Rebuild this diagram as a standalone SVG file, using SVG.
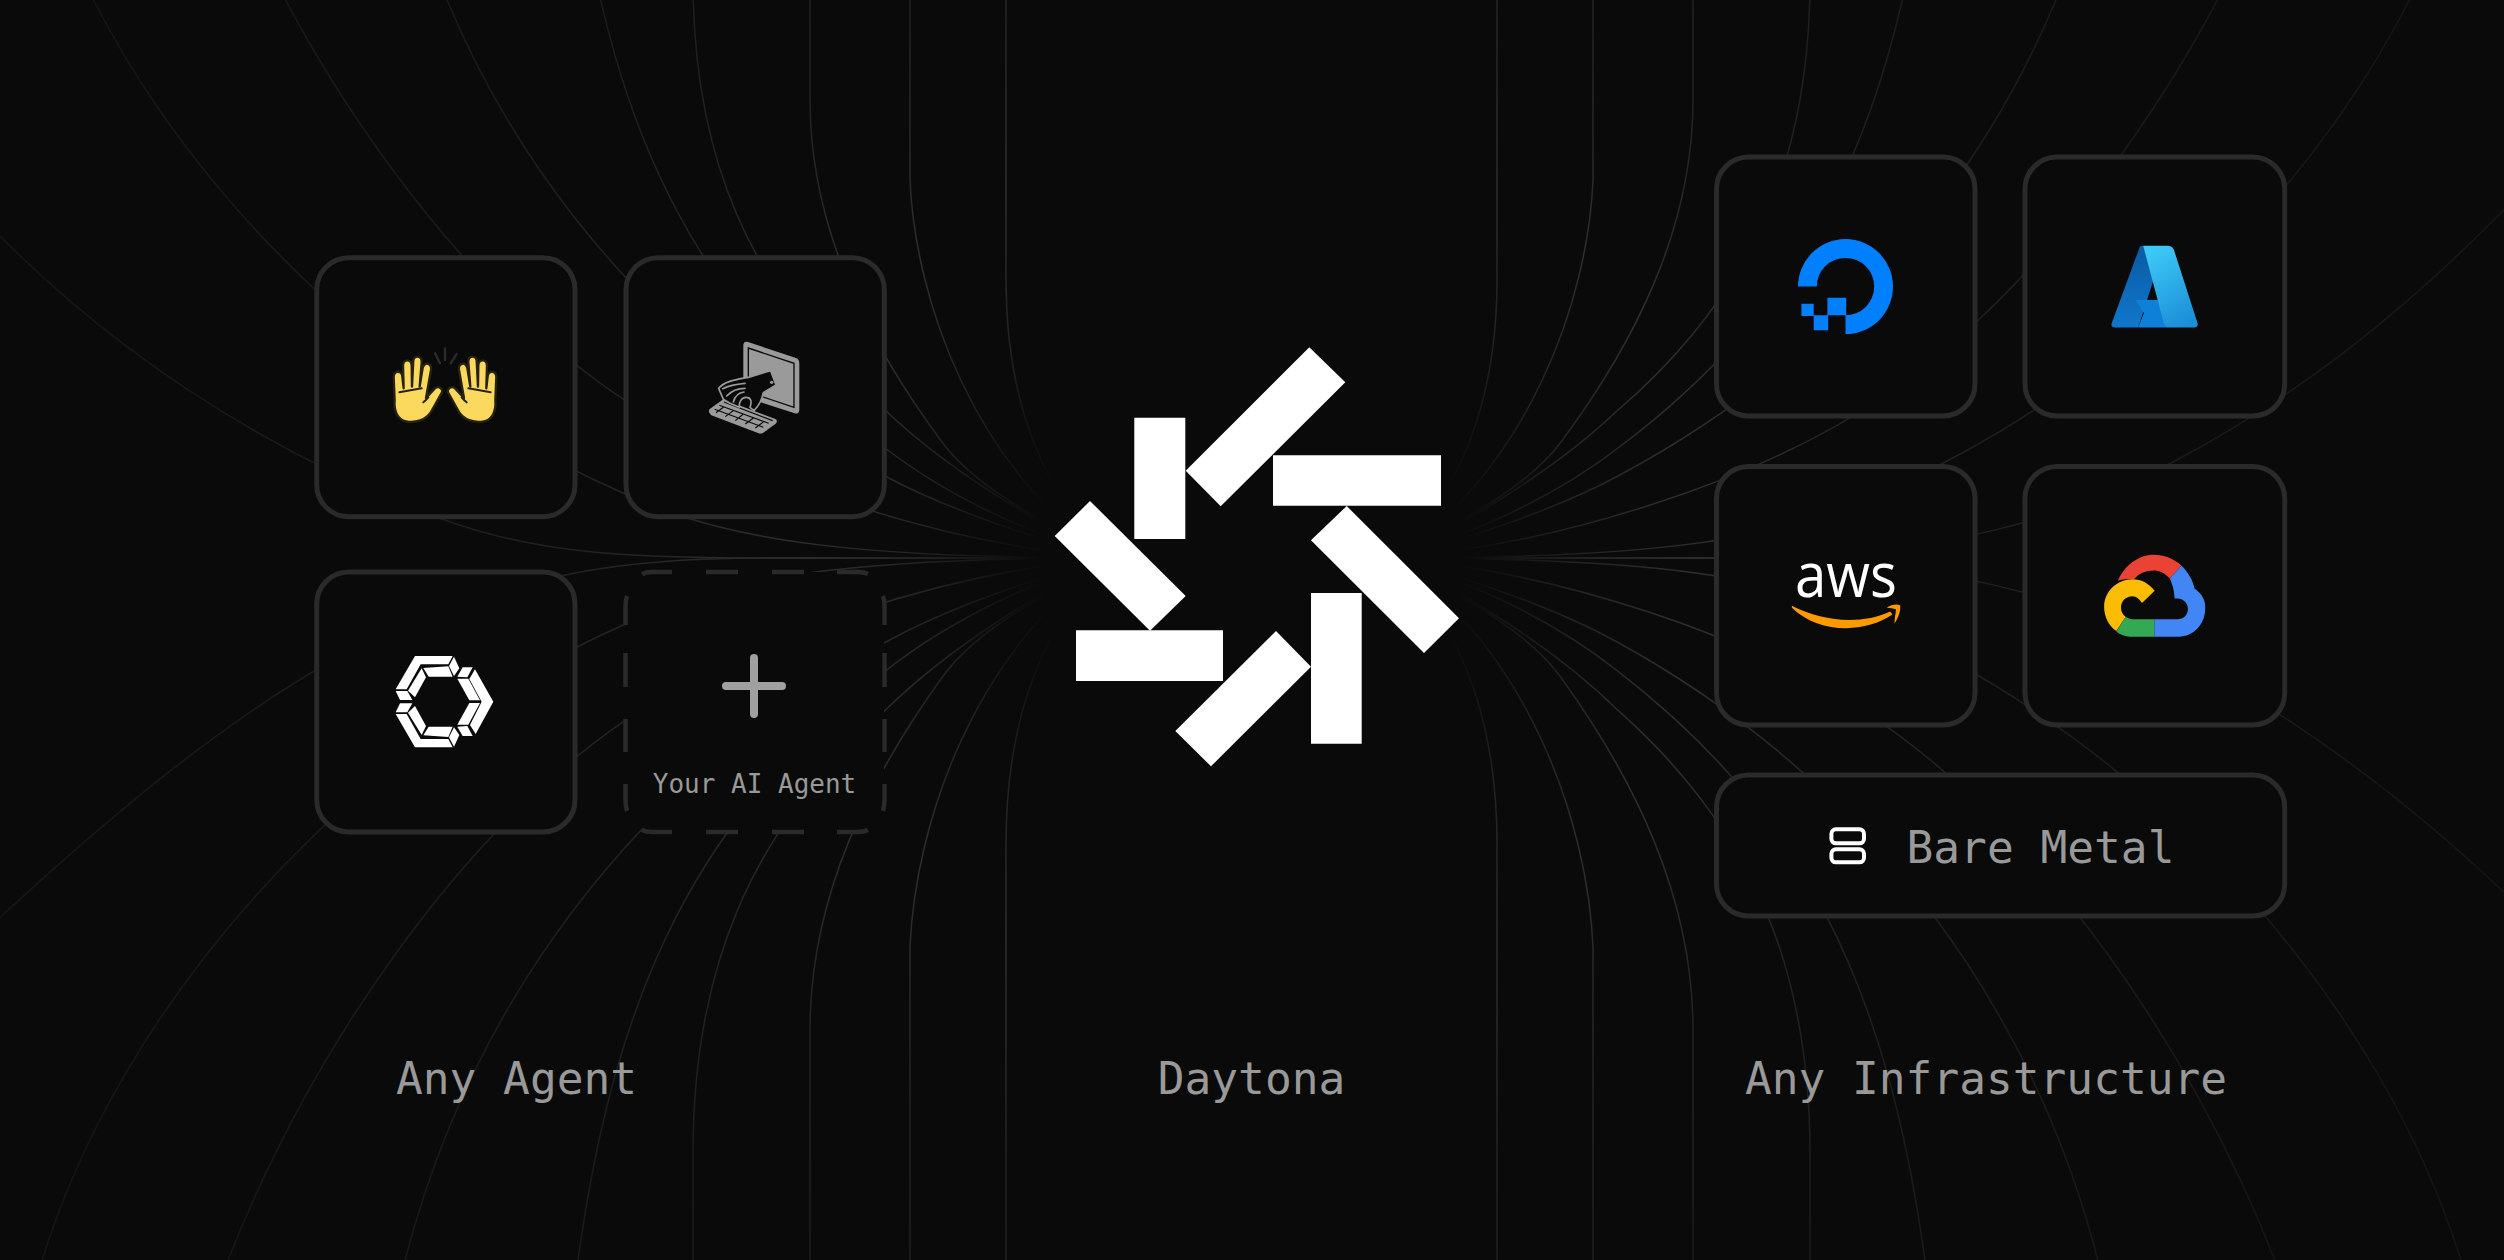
<svg xmlns="http://www.w3.org/2000/svg" xmlns:xlink="http://www.w3.org/1999/xlink" width="2504" height="1260" viewBox="0 0 2504 1260">
<style>
.card{fill:#0a0a0a;stroke:#2a2a2a;stroke-width:5}
.dash{fill:none;stroke:#2a2a2a;stroke-width:4.500}
.line{fill:none;stroke:url(#fade);stroke-width:1.5}
.label{font-family:"DejaVu Sans Mono","Liberation Mono",monospace;font-size:44.5px;fill:#999;text-anchor:middle}
.small{font-size:26px}
.bar{fill:#fff}
.skin{fill:#fbd95f;stroke:#262312;stroke-width:7;stroke-linejoin:round}
.crease{fill:none;stroke:#262312;stroke-width:6;stroke-linecap:round}
.spark{fill:none;stroke:#2c2c2c;stroke-width:7;stroke-linecap:round}
.grey{fill:#9a9a9a}
</style>
<defs>
<radialGradient id="fade" gradientUnits="userSpaceOnUse" cx="1251.5" cy="558" r="1300">
<stop offset="0.16" stop-color="#0a0a0a"/>
<stop offset="0.25" stop-color="#222"/>
<stop offset="0.34" stop-color="#2e2e2e"/>
<stop offset="0.47" stop-color="#242424"/>
<stop offset="0.65" stop-color="#1c1c1c"/>
<stop offset="1" stop-color="#151515"/>
</radialGradient>
<g id="quad">
<path class="line" d="M1006 -130V280C1006 380 1030 480 1110 558"/>
<path class="line" d="M910 -130V180C915 300 975 470 1110 558"/>
<path class="line" d="M810 -130V100C810 230 870 345 942 442C975 487 1040 520 1110 558"/>
<path class="line" d="M693 -130V-20C693 150 745 290 885 410C950 472 1040 525 1110 558"/>
<path class="line" d="M578 -124C615 140 700 310 885 448C960 506 1050 540 1110 558"/>
<path class="line" d="M405 -124C470 120 630 340 885 476C950 511 1040 540 1110 558"/>
<path class="line" d="M228 -124C310 80 460 290 623 399C750 484 950 545 1110 558"/>
<path class="line" d="M42 -124C120 120 340 370 623 493C720 540 850 558 1110 558"/>
</g>
<g id="hand">
<path class="skin" d="M104 180L101 112C101 90 126 90 127 110L131 145L129 76C130 56 154 56 155 76L156 140L160 62C162 44 186 46 185 66L179 140L188 84C192 64 216 68 213 90L198 174L224 146C237 134 254 150 243 162L218 207C202 244 160 249 138 244C112 238 101 212 104 180Z"/>
<path class="crease" d="M118 157L185 145M190 187C196 182 200 178 205 172"/>
</g>
</defs>
<rect id="background" width="2504" height="1260" fill="#0a0a0a"/>
<g id="connectors">
<use href="#quad"/>
<use href="#quad" transform="matrix(1 0 0 -1.03 0 1132.74)"/>
<use href="#quad" transform="matrix(-1 0 0 1 2503 0)"/>
<use href="#quad" transform="matrix(-1 0 0 -1.03 2503 1132.74)"/>
<path class="line" d="M-30 205C100 345 260 450 439 518C530 552 620 558 760 558H1110"/>
<path class="line" d="M-30 945C100 825 240 700 400 625C530 575 620 558 760 558H1110"/>
<path class="line" d="M2533 180C2400 320 2290 400 2171 463C2060 520 1960 552 1740 558H1393"/>
<path class="line" d="M2533 920C2400 790 2290 715 2171 650C2060 595 1960 564 1740 558H1393"/>
</g>
<g id="node-hands">
<rect class="card" x="316.7" y="257.7" width="258.3" height="259" rx="32"/>
<g transform="translate(360 340) scale(.3333)">
<path class="spark" d="M225 40L240 70M255 25V60M290 42L272 70"/>
<use href="#hand"/>
<use href="#hand" transform="translate(510 0) scale(-1 1)"/>
</g>
</g>
<g id="node-computer">
<rect class="card" x="626" y="257.7" width="258.3" height="259" rx="32"/>
<g transform="translate(680 320) scale(.3333)">
<path class="grey" d="M190 74Q192 62 204 66L348 114Q358 118 358 130V268Q358 284 344 280L190 230Z"/>
<path d="M205 84L342 130V262L205 216Z" fill="none" stroke="#0a0a0a" stroke-width="4"/>
<path class="grey" d="M88 268L130 238L288 298Q294 306 286 312L250 338Q244 342 236 340L94 286Q84 278 88 268Z"/>
<path d="M104 268L250 322M118 256L266 310M132 246L278 302M130 262L108 278M160 272L136 290M190 282L166 302M220 294L196 312M250 306L226 324" fill="none" stroke="#0a0a0a" stroke-width="3.500"/>
<path d="M272 152L288 195L250 218C246 240 236 258 222 272L210 262C216 245 214 232 198 232C184 232 176 248 178 262L150 250L130 238C125 225 118 212 116 205C135 182 175 178 205 172Z" fill="#0a0a0a" stroke="#9a9a9a" stroke-width="5" stroke-linejoin="round"/>
<path d="M128 206C150 195 175 192 195 190M140 228C155 212 175 205 195 205M160 246C165 228 175 218 192 216" fill="none" stroke="#9a9a9a" stroke-width="5" stroke-linecap="round"/>
<circle cx="275" cy="187" r="5" fill="#9a9a9a"/>
</g>
</g>
<g id="node-hexagon">
<rect class="card" x="316.7" y="572" width="258.3" height="260" rx="32"/>
<g transform="translate(380 640) scale(.3333)" fill="#fff">
<path d="M105 48H218L205 73H122L80 148H47Z"/>
<path d="M125 85L138 112L105 172L84 152Z"/>
<path d="M130 84L205 79L218 110H146Z"/>
<path d="M222 50L238 85L222 108L207 78Z"/>
<path d="M248 82H278L262 112L232 110Z"/>
<path d="M285 88L340 185L287 282L270 255L305 185L268 117Z"/>
<path d="M232 116H265L300 181H268Z"/>
<path d="M268 189H300L265 254H232Z"/>
<path d="M47 153H82L97 180H60Z"/>
<path d="M47 217H82L97 190H60Z"/>
<path d="M105 322H218L205 297H122L80 222H47Z"/>
<path d="M125 285L138 258L105 198L84 218Z"/>
<path d="M130 286L205 291L218 260H146Z"/>
<path d="M222 320L238 285L222 262L207 292Z"/>
<path d="M248 288H278L262 258L232 260Z"/>
</g>
</g>
<g id="node-your-agent">
<rect x="626" y="572" width="258" height="260" rx="32" fill="#0a0a0a"/>
<path class="dash" d="M642 574Q646 572 652 572H672M706 572H738M772 572H804M837 572H858Q864 572 868 574M642 830Q646 832 652 832H672M706 832H738M772 832H804M837 832H858Q864 832 868 830M627 596Q625.500 600 625.500 606V625M625.500 653V687M625.500 719V752M625.500 784V800Q625.500 806 627 811M883 596Q884.500 600 884.500 606V625M884.500 653V687M884.500 719V752M884.500 784V800Q884.500 806 883 811"/>
<path d="M754 658V714M726 686H782" fill="none" stroke="#a0a0a0" stroke-width="8" stroke-linecap="round"/>
<text class="label small" x="754.500" y="793">Your AI Agent</text>
</g>
<g id="node-daytona" class="bar">
<polygon points="1134.300,417.700 1185.300,417.700 1185.300,539 1134.300,539"/>
<polygon points="1309.300,347.300 1345.300,382.300 1220.700,506.300 1185.700,470.700"/>
<polygon points="1273,455.300 1441,455.300 1441,505.700 1273,505.700"/>
<polygon points="1346.700,506 1459,618.300 1424,653 1311,540.300"/>
<polygon points="1311,593 1361.700,593 1361.700,743.700 1311,743.700"/>
<polygon points="1276,631 1311,666.700 1211,766.300 1175.300,731"/>
<polygon points="1076,630.300 1223,630.300 1223,681 1076,681"/>
<polygon points="1090,501 1185.700,596 1150,630.700 1054.700,536"/>
</g>
<g id="node-digitalocean">
<rect class="card" x="1716.500" y="157" width="258.500" height="259" rx="32"/>
<path fill="#0080ff" d="M1798 286.600A47.500 47.500 0 1 1 1845.500 334.100V315.300A28.700 28.700 0 1 0 1816.800 286.600ZM1827.400 297.700H1846.200V315.300H1827.400ZM1813.700 315.300H1828.200V330.200H1813.700ZM1801.400 303.800H1813.700V316H1801.400Z"/>
</g>
<g id="node-azure">
<rect class="card" x="2025" y="157" width="259.700" height="259" rx="32"/>
<defs>
<linearGradient id="azL" x1="0" y1="0" x2="0" y2="1"><stop offset="0" stop-color="#0a5ba5"/><stop offset="1" stop-color="#0f77cc"/></linearGradient>
<linearGradient id="azR" x1="0.3" y1="0" x2="0.7" y2="1"><stop offset="0" stop-color="#3cc9f5"/><stop offset="1" stop-color="#1c8ed8"/></linearGradient>
</defs>
<g transform="translate(1700 140) scale(.3827)">
<path fill="url(#azL)" d="M1150 277H1175L1190 350L1145 490H1085Q1072 490 1076 478Z"/>
<path fill="#0f80d8" d="M1138 418H1205L1225 490H1145L1160 452Z"/>
<path fill="url(#azR)" d="M1158 276H1222Q1234 276 1238 286L1300 478Q1303 490 1290 490H1228Q1216 490 1212 478Z"/>
</g>
</g>
<g id="node-aws">
<rect class="card" x="1716.500" y="466.500" width="258.500" height="258.500" rx="32"/>
<text x="1795" y="597" font-family="'Open Sans',sans-serif" font-size="62" fill="#fff" textLength="102" lengthAdjust="spacingAndGlyphs">aws</text>
<g transform="translate(1700 140) scale(.3827)" fill="#ff9900">
<path d="M240 1217C320 1258 420 1268 497 1232L503 1240C430 1290 310 1290 240 1222Z"/>
<path d="M488 1222C500 1214 515 1212 523 1216C525 1230 518 1250 508 1264C508 1250 512 1235 512 1226C505 1224 497 1223 488 1222Z"/>
</g>
</g>
<g id="node-gcp">
<rect class="card" x="2025" y="466.500" width="259.700" height="258.500" rx="32"/>
<g transform="translate(1700 140) scale(.3827)">
<path fill="#ea4335" d="M1092 1152C1110 1110 1148 1084 1186 1084C1212 1084 1238 1094 1258 1112L1228 1146C1212 1130 1200 1125 1186 1125C1165 1125 1148 1132 1134 1148C1120 1146 1105 1147 1092 1152Z"/>
<path fill="#4285f4" d="M1258 1112C1275 1130 1288 1150 1292 1172C1312 1185 1322 1205 1320 1225C1320 1265 1290 1298 1250 1298H1187V1252H1250C1265 1252 1275 1240 1275 1225C1275 1210 1262 1198 1248 1198H1240C1240 1175 1232 1158 1228 1146Z"/>
<path fill="#34a853" d="M1187 1298H1125C1110 1298 1098 1292 1088 1285L1112 1246C1118 1250 1125 1252 1130 1252H1187Z"/>
<path fill="#fbbc05" d="M1088 1283C1068 1270 1056 1245 1056 1220C1056 1180 1090 1148 1130 1148C1152 1148 1172 1158 1188 1178L1155 1210C1148 1198 1140 1192 1130 1192C1112 1192 1100 1205 1100 1222C1100 1232 1105 1240 1112 1246Z"/>
</g>
</g>
<g id="node-bare-metal">
<rect class="card" x="1716.500" y="775" width="568.200" height="141" rx="32"/>
<rect x="1831.400" y="829.300" width="32.600" height="14" rx="4.500" fill="none" stroke="#fff" stroke-width="4"/>
<rect x="1831.400" y="849.300" width="32.600" height="13" rx="4.500" fill="none" stroke="#fff" stroke-width="4"/>
<text class="label" x="2040.500" y="862.500">Bare Metal</text>
</g>
<g id="captions">
<text class="label" x="516.500" y="1094">Any Agent</text>
<text class="label" x="1251.500" y="1094">Daytona</text>
<text class="label" x="1986" y="1094">Any Infrastructure</text>
</g>
</svg>
